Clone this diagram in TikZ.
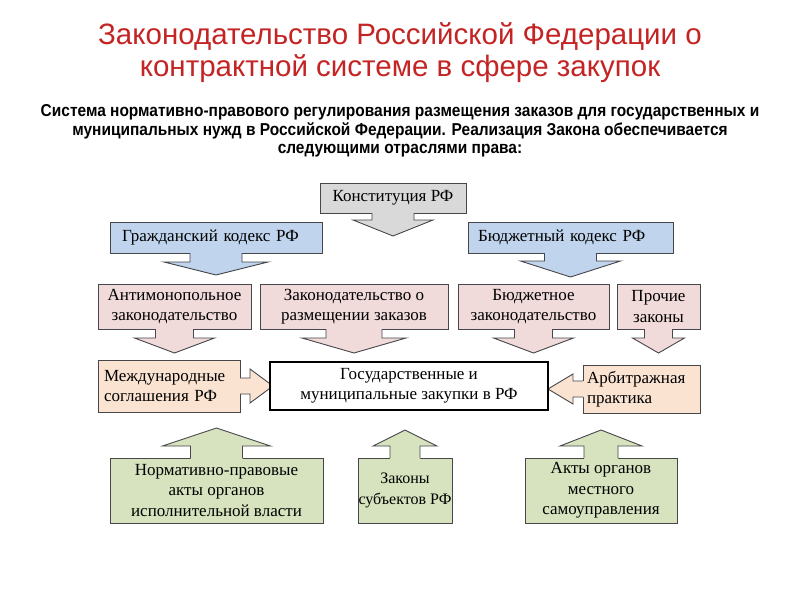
\documentclass[tikz,border=0pt]{standalone}
\usepackage{fontspec}
\setmainfont{Liberation Serif}
\newfontfamily\titlefont{Liberation Sans}
\newfontfamily\leadfont[FakeStretch=0.9]{Liberation Sans}
\usetikzlibrary{calc}

\definecolor{titlered}{RGB}{196,36,36}
\definecolor{boxgray}{RGB}{217,217,217}
\definecolor{boxblue}{RGB}{192,212,237}
\definecolor{boxpink}{RGB}{240,219,218}
\definecolor{boxpeach}{RGB}{251,227,210}
\definecolor{boxgreen}{RGB}{214,227,190}
\definecolor{edge}{RGB}{70,70,75}

\tikzset{
  box/.style={draw=edge, line width=0.9pt, outer sep=0pt, inner sep=2pt, align=center,
    font=\fontsize{17}{20.5}\selectfont},
  outline/.style={draw=edge, line width=0.9pt, line join=miter},
}

\newcommand\callarrow[7]{%
  \begin{scope}[shift={(#1)}, rotate=#2]
    \fill[#3] (-#4,-1) -- (-#4,#6) -- (-#5,#6) -- (0,#7) -- (#5,#6) -- (#4,#6) -- (#4,-1) -- cycle;
    \draw[outline] (-#4,0) -- (-#4,#6) -- (-#5,#6) -- (0,#7) -- (#5,#6) -- (#4,#6) -- (#4,0);
  \end{scope}
}

\begin{document}
\begin{tikzpicture}[x=1pt, y=-1pt]
  \fill[white] (0,0) rectangle (800,600);
  \useasboundingbox (0,0) rectangle (800,600);

  \node[text=titlered, align=center, font=\titlefont\fontsize{29.5}{32}\selectfont] (title) at (400,53)
    {Законодательство Российской Федерации о\\контрактной системе в сфере закупок};
  \node[align=center, font=\leadfont\bfseries\fontsize{17.2}{18.6}\selectfont] (lead) at (400,131)
    {Система нормативно-правового регулирования размещения заказов для государственных и\\
     муниципальных нужд в Российской Федерации. Реализация Закона обеспечивается\\
     следующими отраслями права:};

  \node[box, fill=boxgray, minimum width=146pt, minimum height=30pt] (konst) at (393,198) {Конституция РФ};
  \node[box, fill=boxblue, minimum height=31pt, inner xsep=12pt, text width=188pt, align=left] (grazh) at (216,237.5) {Гражданский кодекс РФ};
  \node[box, fill=boxblue, minimum height=31pt, inner xsep=10pt, text width=185pt, align=left] (budgk) at (570.5,237.5) {Бюджетный кодекс РФ};

  \node[box, fill=boxpink, minimum width=153pt, minimum height=45pt] (antim) at (174.5,306.5) {Антимонопольное\\законодательство};
  \node[box, fill=boxpink, minimum width=188pt, minimum height=45pt] (zakon) at (354,306.5) {Законодательство о\\размещении заказов};
  \node[box, fill=boxpink, minimum width=151pt, minimum height=45pt] (budgz) at (533.5,306.5) {Бюджетное\\законодательство};
  \node[box, fill=boxpink, minimum width=83pt, minimum height=45pt] (proch) at (658.5,306.5) {Прочие\\законы};

  \node[box, fill=boxpeach, minimum height=52pt, inner xsep=6pt, text width=130pt, align=left] (mezhd) at (169,386) {Международные\\соглашения РФ};
  \node[box, fill=boxpeach, minimum height=48pt, inner xsep=4pt, text width=109pt, align=left] (arbit) at (641.5,389) {Арбитражная\\практика};

  \node[box, fill=boxgreen, minimum width=213pt, minimum height=65pt] (norm) at (216.5,490.5) {Нормативно-правовые\\акты органов\\исполнительной власти};
  \node[box, fill=boxgreen, minimum width=94pt, minimum height=65pt, inner xsep=0pt,
    font=\fontsize{16}{20.5}\selectfont] (zsubj) at (405,490.5) {Законы\\субъектов РФ};
  \node[box, fill=boxgreen, minimum width=152pt, minimum height=65pt] (akty) at (601,490.5) {Акты органов\\местного\\самоуправления};

  \callarrow{konst.south}{0}{boxgray}{21}{40}{7}{23}
  \callarrow{grazh.south}{0}{boxblue}{26}{52}{9}{22}
  \callarrow{budgk.south}{0}{boxblue}{26}{50}{8}{24}
  \callarrow{antim.south}{0}{boxpink}{19}{40}{9}{24}
  \callarrow{zakon.south}{0}{boxpink}{28}{52}{9}{24}
  \callarrow{budgz.south}{0}{boxpink}{19}{40}{9}{24}
  \callarrow{proch.south}{0}{boxpink}{14}{26}{9}{24}
  \callarrow{mezhd.east}{90}{boxpeach}{8}{17}{10}{33}
  \callarrow{arbit.west}{-90}{boxpeach}{8}{15}{10}{35}
  \callarrow{norm.north}{180}{boxgreen}{26}{54}{12}{30}
  \callarrow{zsubj.north}{180}{boxgreen}{15}{32}{12}{28}
  \callarrow{akty.north}{180}{boxgreen}{17}{41}{12}{28}

  \node[draw=black, fill=white, line width=2.5pt, outer sep=0pt, align=center, minimum width=278pt, minimum height=48pt,
    font=\fontsize{17}{20.5}\selectfont] (gos) at (409,386) {Государственные и\\муниципальные закупки в РФ};
\end{tikzpicture}
\end{document}
